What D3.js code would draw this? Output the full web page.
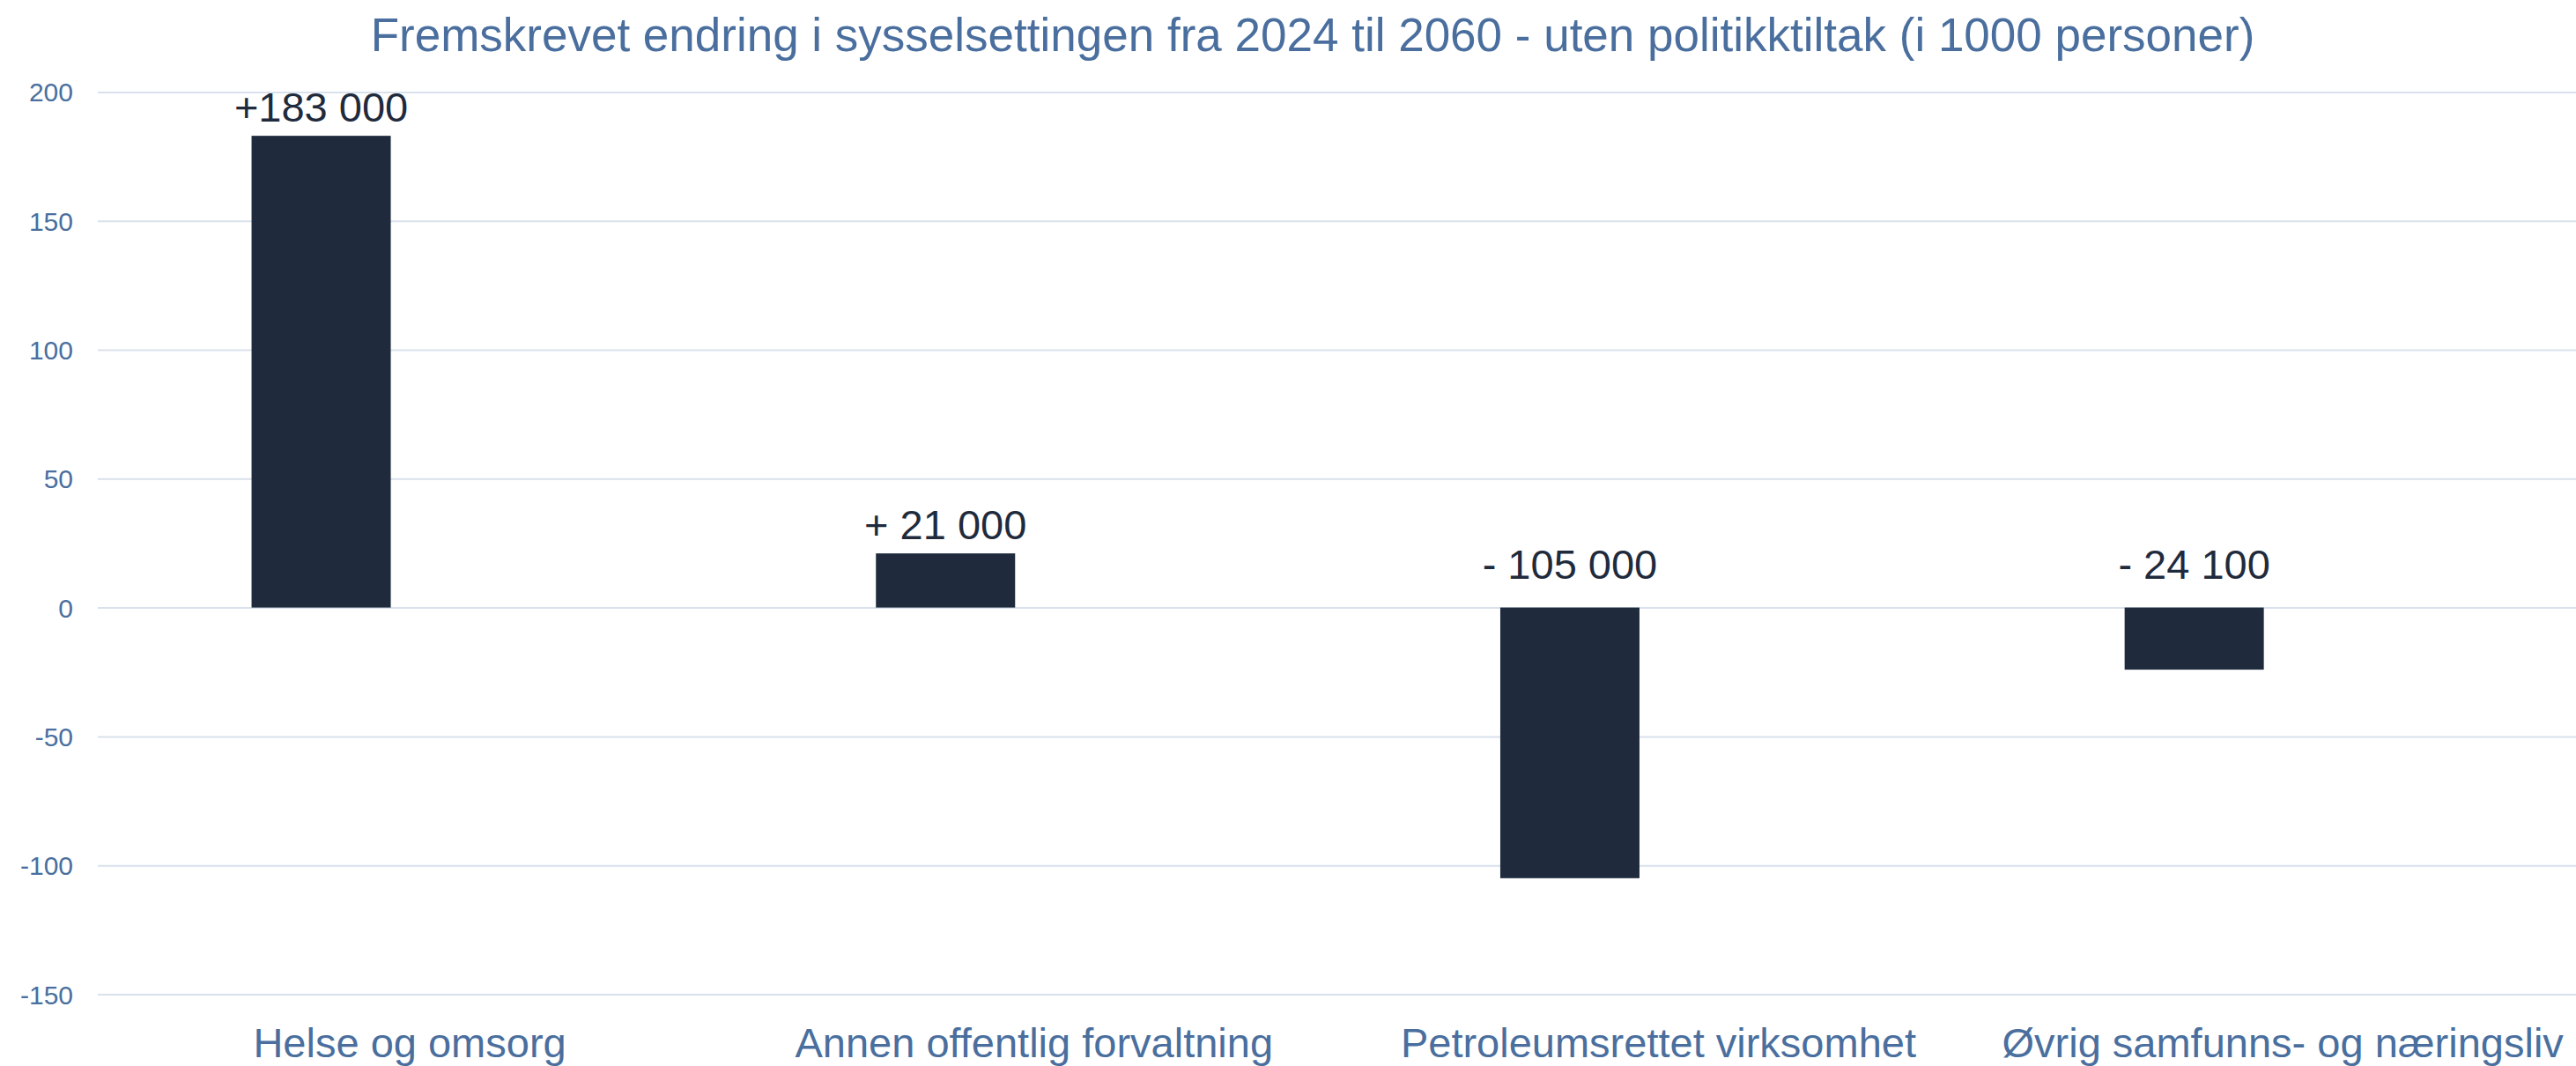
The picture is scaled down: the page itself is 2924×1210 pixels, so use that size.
<!DOCTYPE html>
<html>
<head>
<meta charset="utf-8">
<script src="https://cdn.jsdelivr.net/npm/d3@7"></script>
<style>
  html, body { margin: 0; padding: 0; background: #ffffff; }
  svg { display: block; font-family: Arial, "Liberation Sans", sans-serif; }
</style>
</head>
<body>
<svg id="chart" width="2924" height="1210"></svg>
<script>
// ---- data ----
const categories = ["Helse og omsorg", "Annen offentlig forvaltning", "Petroleumsrettet virksomhet", "Øvrig samfunns- og næringsliv"];
const values = [183, 21, -105, -24.1];
const valueLabels = ["+183 000", "+ 21 000", "- 105 000", "- 24 100"];
const yTicks = [-150, -100, -50, 0, 50, 100, 150, 200];
const title = "Fremskrevet endring i sysselsettingen fra 2024 til 2060 - uten politikktiltak (i 1000 personer)";

// ---- layout ----
const W = 2924, H = 1210;
const gridLeft = 111, gridRight = 2924;
const barWidth = 158, barShift = -100.5;
const blue = "#4A6F9E", barColor = "#1F2B3D", gridColor = "#D9E1EC";

const svg = d3.select("#chart");

const y = d3.scaleLinear().domain([-150, 200]).range([1128.5, 104.4]);
const x = d3.scaleBand().domain(categories).range([110.7, 2945.5]).padding(0);
const center = c => x(c) + x.bandwidth() / 2;

// gridlines + y tick labels via axis
const yAxis = d3.axisLeft(y).tickValues(yTicks).tickSize(0).tickPadding(0).tickFormat(d3.format("d"));
const gAxis = svg.append("g").attr("transform", `translate(${gridLeft},0)`).call(yAxis);
gAxis.select(".domain").remove();
gAxis.selectAll(".tick text")
  .attr("x", -28)
  .attr("dy", "0.35em")
  .attr("fill", blue)
  .attr("font-size", 30)
  .attr("font-family", "Arial, 'Liberation Sans', sans-serif")
  .text(d => d < 0 ? "-" + Math.abs(d) : String(d));
gAxis.selectAll(".tick line")
  .attr("x1", 0).attr("x2", gridRight - gridLeft)
  .attr("stroke", gridColor).attr("stroke-width", 2);

// bars
const data = categories.map((c, i) => ({ c, v: values[i], label: valueLabels[i] }));
svg.append("g").selectAll("rect").data(data).join("rect")
  .attr("x", d => center(d.c) + barShift - barWidth / 2)
  .attr("width", barWidth)
  .attr("y", d => y(Math.max(0, d.v)))
  .attr("height", d => Math.abs(y(d.v) - y(0)))
  .attr("fill", barColor);

// value labels (placed above the bar for positives, above the zero line for negatives)
svg.append("g").selectAll("text").data(data).join("text")
  .attr("x", d => center(d.c) + barShift)
  .attr("y", d => d.v >= 0 ? y(d.v) - 16 : y(0) - 33)
  .attr("text-anchor", "middle")
  .attr("fill", barColor)
  .attr("font-size", 47)
  .text(d => d.label);

// category labels via bottom axis
const xAxis = d3.axisBottom(x).tickSize(0).tickPadding(0);
const gx = svg.append("g").attr("transform", "translate(0,1200)").call(xAxis);
gx.select(".domain").remove();
gx.selectAll(".tick text")
  .attr("y", 0).attr("dy", 0)
  .attr("fill", blue)
  .attr("font-size", 47)
  .attr("font-family", "Arial, 'Liberation Sans', sans-serif");

// title
svg.append("text")
  .attr("x", 1490).attr("y", 58)
  .attr("text-anchor", "middle")
  .attr("fill", blue)
  .attr("font-size", 53)
  .text(title);
</script>
</body>
</html>
